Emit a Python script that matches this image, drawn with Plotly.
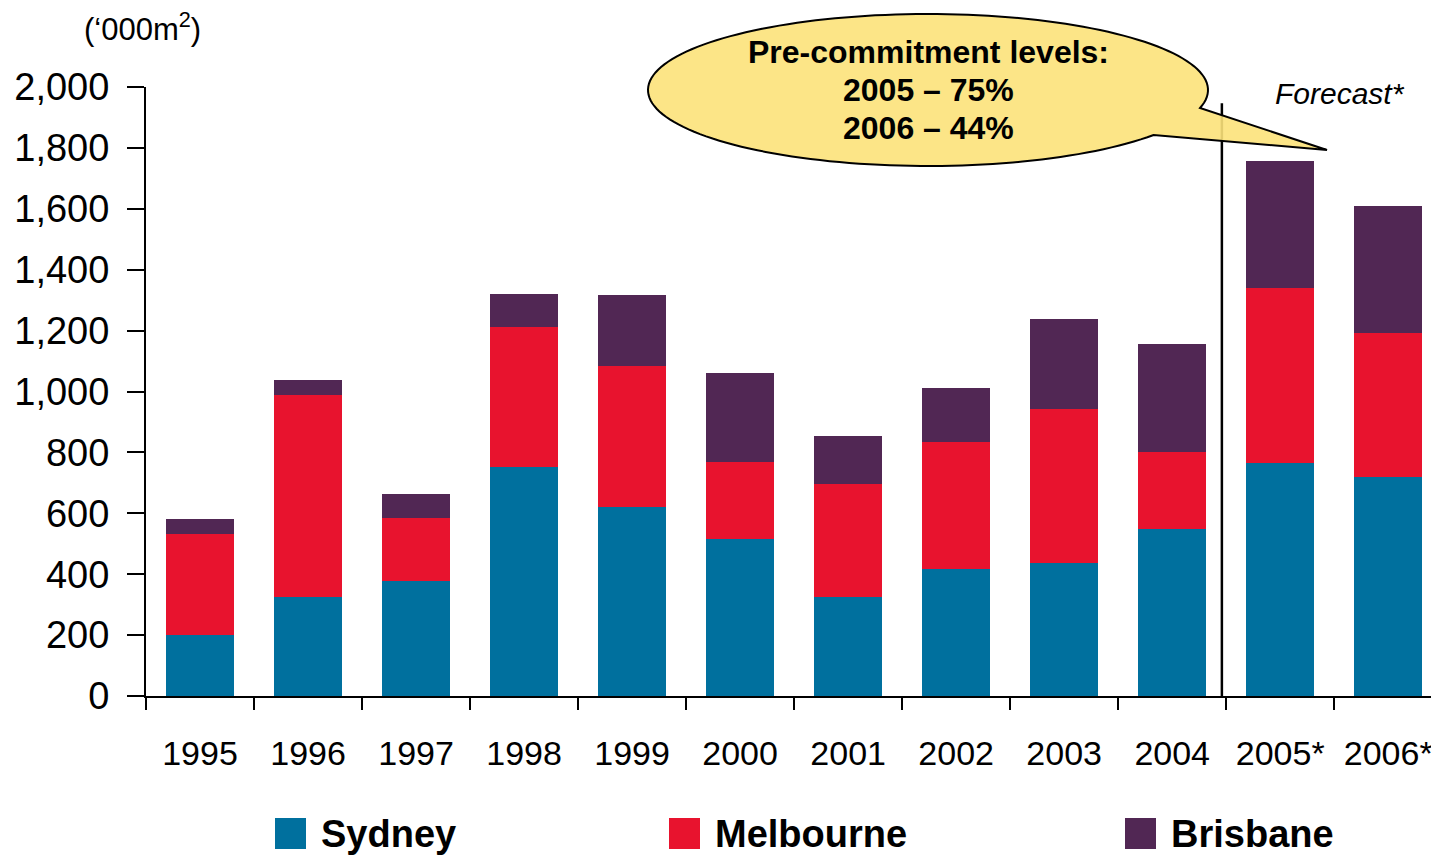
import numpy as np
import plotly.graph_objects as go

years = ["1995", "1996", "1997", "1998", "1999", "2000", "2001", "2002", "2003", "2004", "2005*", "2006*"]
sydney = [200, 325, 378, 752, 621, 516, 325, 417, 437, 548, 765, 719]
melbourne = [332, 663, 207, 460, 463, 252, 371, 417, 505, 253, 575, 473]
brisbane = [49, 50, 78, 108, 233, 293, 158, 177, 296, 355, 417, 417]
series_names = ["Sydney", "Melbourne", "Brisbane"]
series_colors = ["#00709E", "#E8132E", "#512754"]
y_ticks = [0, 200, 400, 600, 800, 1000, 1200, 1400, 1600, 1800, 2000]
callout_lines = ["Pre-commitment levels:", "2005 – 75%", "2006 – 44%"]

# page body has an 8px margin; figure is sized so it ends at the window edge
OFF = 8
W, H = 1439 - OFF, 856 - OFF
L, R, T = 146 - OFF, 0, 87 - OFF
B = H - (696 - OFF)
PW, PH = W - L - R, H - T - B


def px(x):  # reference-window pixel -> paper
    return (x - OFF - L) / PW


def py(y):
    return (H - B - (y - OFF)) / PH


FONT = "Liberation Sans, Arial, sans-serif"

fig = go.Figure()
for name, vals, col in zip(series_names, [sydney, melbourne, brisbane], series_colors):
    fig.add_trace(go.Bar(x=years, y=vals, name=name, marker=dict(color=col, line=dict(width=0)),
                         showlegend=False))

fig.update_layout(
    width=W, height=H,
    margin=dict(l=L, r=R, t=T, b=B, pad=0),
    barmode="stack", bargap=0.37,
    plot_bgcolor="white", paper_bgcolor="white",
    font=dict(family=FONT, color="black"),
    xaxis=dict(type="category", tickson="boundaries", ticks="outside", ticklen=12, tickwidth=2,
               tickcolor="black", showline=True, linecolor="black", linewidth=2, showgrid=False,
               tickfont=dict(size=34), ticklabelstandoff=26, range=[-0.5, 11.47]),
    yaxis=dict(range=[0, 2000], tickvals=y_ticks, tickformat=",", ticks="outside", ticklen=17,
               tickwidth=2, tickcolor="black", showline=True, linecolor="black", linewidth=2,
               showgrid=False, zeroline=False, tickfont=dict(size=38), ticklabelstandoff=10),
)

# forecast divider
fig.add_shape(type="line", xref="x", yref="y", x0=9.46, x1=9.46, y0=0, y1=1947,
              line=dict(color="black", width=2.5), layer="above")

# callout bubble
cx, cy, rx, ry = 928, 90, 280, 76
t0 = np.arcsin(45 / ry)
t1 = np.arcsin(18 / ry) + 2 * np.pi
ts = np.linspace(t0, t1, 160)
pts = [(cx + rx * np.cos(t), cy + ry * np.sin(t)) for t in ts]
pts.append((1327, 150))
path = "M " + " L ".join(f"{px(x):.5f},{py(y):.5f}" for x, y in pts) + " Z"
fig.add_shape(type="path", xref="paper", yref="paper", path=path,
              fillcolor="rgba(252,226,122,0.9)", line=dict(color="black", width=2), layer="above")

for line, ly in zip(callout_lines, [52, 90, 128]):
    fig.add_annotation(xref="paper", yref="paper", x=px(928), y=py(ly), xanchor="center",
                       yanchor="middle", text=f"<b>{line}</b>", showarrow=False,
                       font=dict(size=32, family=FONT, color="black"))

fig.add_annotation(xref="paper", yref="paper", x=px(1340), y=py(93), xanchor="center", yanchor="middle",
                   text="<i>Forecast*</i>", showarrow=False, font=dict(size=30, family=FONT))

fig.add_annotation(xref="paper", yref="paper", x=px(142), y=py(27), xanchor="center", yanchor="middle",
                   text="(‘000m<sup>2</sup>)", showarrow=False, font=dict(size=31, family=FONT))

# legend
leg_x = [275, 669, 1125]
for name, col, lx in zip(series_names, series_colors, leg_x):
    fig.add_shape(type="rect", xref="paper", yref="paper", x0=px(lx), x1=px(lx + 31),
                  y0=py(849), y1=py(818), fillcolor=col, line=dict(width=0))
    fig.add_annotation(xref="paper", yref="paper", x=px(lx + 44), y=py(834), xanchor="left",
                       yanchor="middle", text=f"<b>{name}</b>", showarrow=False,
                       font=dict(size=38, family=FONT))

fig.write_html("out.html")
